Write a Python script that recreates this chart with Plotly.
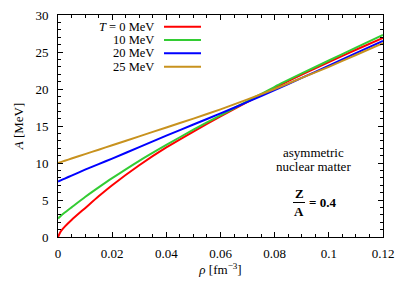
import plotly.graph_objects as go

rho = [0, 0.001, 0.0025, 0.005, 0.01, 0.015, 0.02, 0.03, 0.04, 0.05, 0.06, 0.07, 0.08, 0.09, 0.10, 0.11, 0.12]
A_T0 = [0, 0.75, 1.4, 2.3, 3.9, 5.5, 7.0, 9.7, 12.1, 14.25, 16.3, 18.25, 20.15, 21.95, 23.65, 25.3, 26.9]
A_T10 = [2.5, 2.85, 3.3, 4.0, 5.4, 6.7, 7.95, 10.3, 12.45, 14.5, 16.45, 18.35, 20.3, 22.1, 23.85, 25.6, 27.3]
A_T20 = [7.5, 7.65, 7.9, 8.3, 9.1, 9.85, 10.6, 12.15, 13.7, 15.2, 16.7, 18.25, 19.85, 21.5, 23.15, 24.85, 26.5]
A_T25 = [10.0, 10.12, 10.3, 10.6, 11.2, 11.8, 12.4, 13.6, 14.8, 16.0, 17.25, 18.6, 20.0, 21.5, 23.0, 24.6, 26.2]

labels = ["<i>T</i> = 0 MeV", "10 MeV", "20 MeV", "25 MeV"]
colors = ["#ff0000", "#33cc33", "#0000ff", "#c8921e"]
series = [A_T0, A_T10, A_T20, A_T25]

xticks = [0, 0.02, 0.04, 0.06, 0.08, 0.1, 0.12]
xticklabels = ["0", "0.02", "0.04", "0.06", "0.08", "0.1", "0.12"]
yticks = [0, 5, 10, 15, 20, 25, 30]

FONT = "Liberation Serif"

fig = go.Figure()
for ys, c, lab in zip(series, colors, labels):
    fig.add_trace(go.Scatter(x=rho, y=ys, mode="lines",
                             line=dict(color=c, width=2, shape="spline", smoothing=0.6),
                             name=lab, showlegend=False, hoverinfo="skip"))

W, H = 407, 285
ml, mt = 58, 15
pw, ph = 325, 222
mr, mb = W - ml - pw, H - mt - ph

def px(xp):
    return (xp - ml) / pw

def py(yp):
    return (mt + ph - yp) / ph

shapes = []
annotations = []
leg_y = [26.7, 40, 53.3, 66.7]
for lab, c, yy in zip(labels, colors, leg_y):
    annotations.append(dict(x=px(155), y=py(yy), xref="paper", yref="paper", text=lab,
                            showarrow=False, xanchor="right", yanchor="middle", borderpad=0,
                            font=dict(family=FONT, size=12.5, color="black")))
    shapes.append(dict(type="line", xref="paper", yref="paper", x0=px(164), x1=px(201),
                       y0=py(yy), y1=py(yy), line=dict(color=c, width=2)))

annotations += [
    dict(x=px(313), y=py(152), xref="paper", yref="paper", text="asymmetric", showarrow=False,
         xanchor="center", yanchor="middle", font=dict(family=FONT, size=13, color="black")),
    dict(x=px(313), y=py(166), xref="paper", yref="paper", text="nuclear matter", showarrow=False,
         xanchor="center", yanchor="middle", font=dict(family=FONT, size=13, color="black")),
    dict(x=px(299), y=py(193), xref="paper", yref="paper", text="<b>Z</b>", showarrow=False,
         xanchor="center", yanchor="middle", font=dict(family=FONT, size=13, color="black")),
    dict(x=px(299), y=py(211), xref="paper", yref="paper", text="<b>A</b>", showarrow=False,
         xanchor="center", yanchor="middle", font=dict(family=FONT, size=13, color="black")),
    dict(x=px(307), y=py(202), xref="paper", yref="paper", text="<b>= 0.4</b>", showarrow=False,
         xanchor="left", yanchor="middle", font=dict(family=FONT, size=13, color="black")),
]
shapes.append(dict(type="line", xref="paper", yref="paper", x0=px(293), x1=px(305),
                   y0=py(202.5), y1=py(202.5), line=dict(color="black", width=1)))

axis_common = dict(showgrid=False, zeroline=False, showline=True, linecolor="black", linewidth=1,
                   mirror="allticks", ticks="inside", ticklen=5, tickcolor="black", automargin=False,
                   tickfont=dict(family=FONT, size=13, color="black"))

fig.update_layout(
    width=W, height=H,
    margin=dict(l=ml, r=mr, t=mt, b=mb, autoexpand=False),
    paper_bgcolor="white", plot_bgcolor="white",
    font=dict(family=FONT, size=13, color="black"),
    hovermode=False,
    xaxis=dict(range=[0, 0.12], tickvals=xticks, ticktext=xticklabels,
               title=dict(text="<i>ρ</i> [fm<sup>−3</sup>]", font=dict(family=FONT, size=13, color="black"), standoff=2),
               minor=dict(ticks="inside", dtick=0.005, ticklen=3, tickcolor="black"),
               ticklabelstandoff=4, **axis_common),
    yaxis=dict(range=[0, 30], tickvals=yticks,
               title=dict(text="<i>A</i> [MeV]", font=dict(family=FONT, size=13, color="black"), standoff=8),
               minor=dict(ticks="inside", dtick=1, ticklen=3, tickcolor="black"),
               ticklabelstandoff=6, **axis_common),
    shapes=shapes, annotations=annotations, showlegend=False,
)

fig.write_html("out.html", config={"displayModeBar": False, "staticPlot": True},
               post_script="document.body.style.margin='0';document.body.style.overflow='hidden';")
